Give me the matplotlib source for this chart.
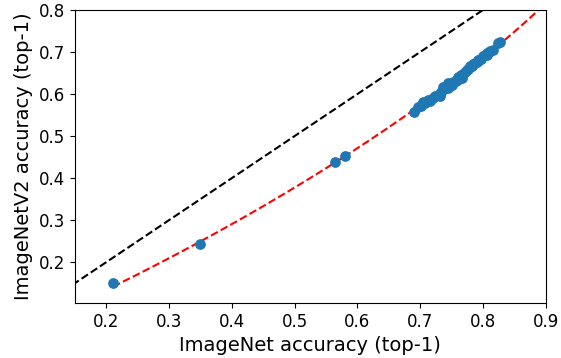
from statistics import NormalDist
import numpy as np
from matplotlib import pyplot as plt

# top-1 accuracies
imagenet_acc = [0.211, 0.349, 0.565, 0.581,
                0.690, 0.697, 0.702, 0.708, 0.712, 0.716, 0.720, 0.724, 0.728, 0.733,
                0.736, 0.738, 0.741, 0.744, 0.747, 0.750, 0.753, 0.757, 0.760, 0.762,
                0.765, 0.768, 0.771, 0.774, 0.777, 0.780, 0.782, 0.785, 0.788, 0.791,
                0.794, 0.797, 0.800, 0.803, 0.806, 0.809, 0.812, 0.816, 0.824, 0.827,
                0.705, 0.731, 0.745, 0.766, 0.779, 0.792, 0.807]
imagenetv2_acc = [0.150, 0.243, 0.439, 0.452,
                  0.557, 0.570, 0.572, 0.580, 0.585, 0.583, 0.590, 0.595, 0.598, 0.605,
                  0.618, 0.612, 0.620, 0.615, 0.620, 0.622, 0.628, 0.632, 0.640, 0.636,
                  0.645, 0.648, 0.652, 0.657, 0.660, 0.664, 0.668, 0.672, 0.675, 0.676,
                  0.680, 0.684, 0.690, 0.693, 0.697, 0.700, 0.703, 0.706, 0.721, 0.723,
                  0.582, 0.596, 0.626, 0.639, 0.668, 0.681, 0.692]


def probit(p):
    return np.array([NormalDist().inv_cdf(v) for v in p])


def inv_probit(z):
    return np.array([NormalDist().cdf(v) for v in z])


def visualize(xs, ys):
    fig = plt.figure(figsize=(5.61, 3.58), dpi=100)
    ax = fig.add_axes([0.1333, 0.1536, 0.8394, 0.8184])

    ax.plot([0, 1], [0, 1], 'k--')

    # linear fit in probit space
    slope, intercept = np.polyfit(probit(xs), probit(ys), 1)
    fit_x = np.linspace(min(xs), 0.95, 200)
    fit_y = inv_probit(slope * probit(fit_x) + intercept)
    ax.plot(fit_x, fit_y, 'r--')

    ax.scatter(xs, ys, s=45, zorder=3)

    ax.set_xlim(0.15, 0.9)
    ax.set_ylim(0.103, 0.8)
    ax.set_xticks([0.2, 0.3, 0.4, 0.5, 0.6, 0.7, 0.8, 0.9])
    ax.set_yticks([0.2, 0.3, 0.4, 0.5, 0.6, 0.7, 0.8])
    ax.tick_params(labelsize=12)
    ax.set_xlabel("ImageNet accuracy (top-1)", fontsize=14)
    ax.set_ylabel("ImageNetV2 accuracy (top-1)", fontsize=14)
    fig.savefig("out.png", dpi=100)


if __name__ == '__main__':
    visualize(imagenet_acc, imagenetv2_acc)
